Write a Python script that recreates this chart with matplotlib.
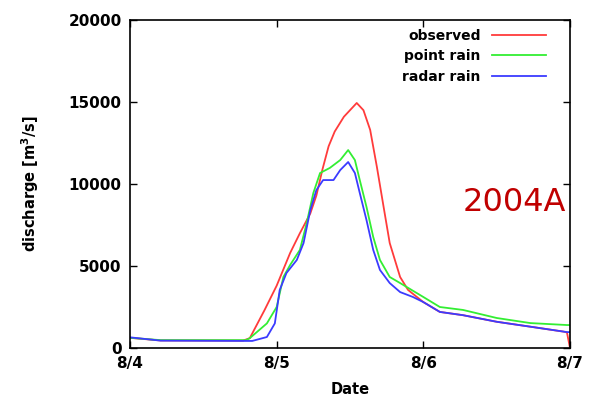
import matplotlib.pyplot as plt
import numpy as np

# hours since 8/4 00:00
obs_t = [0, 5, 18.5, 19.6, 22, 24, 26.2, 27.8, 29.5, 30.5, 31.5, 32.5, 33.5, 35, 37.1, 38.2,
         39.3, 40.4, 41.5, 42.5, 44.2, 45.5, 48, 50.7, 54.5, 60, 65.5, 70.9, 71.5, 72]
obs_q = [620, 460, 450, 600, 2300, 3800, 5790, 7000, 8200, 9300, 10900, 12300, 13200, 14100, 14940, 14500,
         13300, 11040, 8600, 6400, 4330, 3540, 2800, 2200, 2000, 1600, 1300, 1000, 950, 0]

pt_t = [0, 5, 19, 19.6, 22.4, 24, 25.1, 26.2, 27.8, 28.9, 30, 31.1, 32.7, 34.4, 35.7,
        36.8, 37.6, 38.7, 39.8, 40.9, 42.5, 44.2, 48, 50.7, 54.5, 60, 65.5, 71.5, 72]
pt_q = [620, 480, 480, 600, 1500, 2500, 4330, 5060, 5980, 7600, 9450, 10670, 10980, 11460, 12070,
        11460, 10240, 8600, 6770, 5370, 4330, 3960, 3110, 2500, 2320, 1830, 1520, 1400, 1400]

rad_t = [0, 5, 20, 22.4, 23.7, 24.5, 25.6, 27.3, 28.4, 29.5, 30.5, 31.6, 33.3, 34.4, 35.7,
         36.8, 37.6, 38.7, 39.8, 40.9, 42.5, 44.2, 46.3, 48, 50.7, 54.5, 60, 65.5, 71.5, 72]
rad_q = [650, 450, 430, 670, 1500, 3540, 4570, 5370, 6400, 8400, 9630, 10240, 10240, 10850, 11340,
         10670, 9450, 7800, 5980, 4760, 3960, 3410, 3110, 2800, 2200, 2000, 1600, 1300, 970, 970]

date_ticks = [0, 24, 48, 72]
date_labels = ["8/4", "8/5", "8/6", "8/7"]

fig = plt.figure(figsize=(5.9, 4.08), dpi=100)
ax = fig.add_axes([130 / 590, 60 / 408, 440 / 590, 328 / 408])

ax.plot(obs_t, obs_q, color="#ff3b3b", lw=1.3, label="observed")
ax.plot(pt_t, pt_q, color="#33ee33", lw=1.3, label="point rain")
ax.plot(rad_t, rad_q, color="#3b3bff", lw=1.3, label="radar rain")

ax.set_xlim(0, 72)
ax.set_ylim(0, 20000)
ax.set_xticks(date_ticks)
ax.set_xticklabels(date_labels)
ax.set_yticks(np.arange(0, 20001, 5000))
ax.tick_params(direction="in", top=True, right=True, length=5, width=1,
               labelsize=11, pad=6)
for lab in ax.get_xticklabels() + ax.get_yticklabels():
    lab.set_fontweight("bold")
for s in ax.spines.values():
    s.set_linewidth(1.2)

ax.set_xlabel("Date", fontsize=10.5, fontweight="bold", labelpad=8)
ax.set_ylabel("discharge [m$^\\mathbf{3}$/s]", fontsize=10.5, fontweight="bold", labelpad=20)

leg = ax.legend(loc="upper right", bbox_to_anchor=(0.966, 1.0), frameon=False,
                markerfirst=False, prop={"size": 10, "weight": "bold"},
                handlelength=3.9, handletextpad=0.8, labelspacing=0.45,
                borderaxespad=0.25)
for t in leg.get_texts():
    t.set_ha("right")

ax.text(0.99, 0.445, "2004A", transform=ax.transAxes, ha="right", va="center",
        fontsize=23, color="#c00000")

fig.savefig("out.png", dpi=100)
